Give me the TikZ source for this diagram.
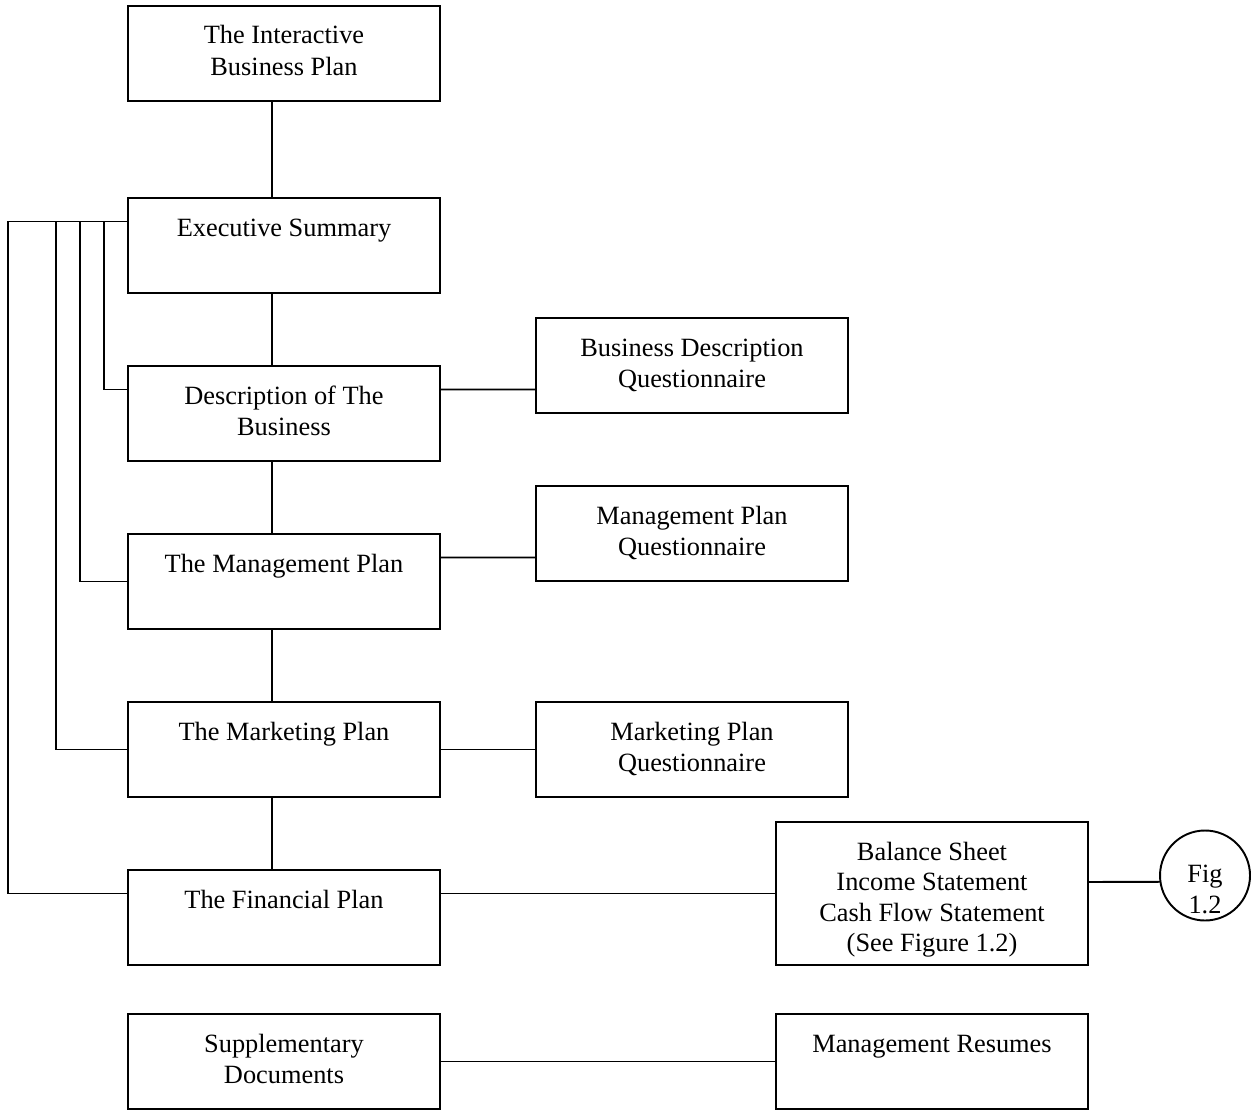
\documentclass[tikz,border=0pt]{standalone}
\usepackage{fontspec}
\setmainfont{Liberation Serif}
\usepackage{tikz}
\usetikzlibrary{positioning}
\tikzset{
  box/.style={draw,line width=1.1pt,inner sep=0pt,outer sep=0pt,
              text width=6.24cm,align=center,minimum height=1.9cm,
              text height=0.76cm,text depth=1.14cm,
              font=\fontsize{15}{18}\selectfont,
              execute at begin node={\spaceskip=3.75pt\relax}},
  tallbox/.style={box,minimum height=2.86cm,text depth=2.1cm,
                  font=\fontsize{15}{17.4}\selectfont},
  figmark/.style={draw,circle,line width=1.1pt,inner sep=0pt,outer sep=0pt,
                  minimum size=1.8cm,text width=0.8cm,align=center,
                  text height=0.88cm,text depth=0.62cm,
                  font=\fontsize{15}{18}\selectfont},
  lnk/.style={line width=1.1pt},
}
\begin{document}
\begin{tikzpicture}
  \useasboundingbox (0,0) rectangle (25.18,-22.2);
  %% Main column
  \node[box] (plan) at (5.68,-1.07) {The Interactive\\Business Plan};
  \node[box,below=1.94cm of plan]   (exec)    {Executive Summary};
  \node[box,below=1.46cm of exec]   (desc)    {Description of The\\Business};
  \node[box,below=1.46cm of desc]   (mgmt)    {The Management Plan};
  \node[box,below=1.46cm of mgmt]   (mktg)    {The Marketing Plan};
  \node[box,below=1.46cm of mktg]   (fin)     {The Financial Plan};
  \node[box,below=0.98cm of fin]    (supp)    {Supplementary\\Documents};
  %% Questionnaires
  \node[box,right=1.92cm of desc,yshift=0.96cm] (bdq) {Business Description\\Questionnaire};
  \node[box,right=1.92cm of mgmt,yshift=0.96cm] (mpq) {Management Plan\\Questionnaire};
  \node[box,right=1.92cm of mktg]               (mkq) {Marketing Plan\\Questionnaire};
  %% Statements and resumes
  \node[tallbox,right=6.72cm of fin,yshift=0.48cm] (stmts)
       {Balance Sheet\\Income Statement\\Cash Flow Statement\\(See Figure 1.2)};
  \node[box,right=6.72cm of supp]   (resumes) {Management Resumes};
  \node[figmark,right=1.44cm of stmts,yshift=0.36cm] (fig) {Fig\\1.2};

  %% Spine
  \draw[lnk]([xshift=-0.24cm]plan.south)--([xshift=-0.24cm]exec.north);
  \draw[lnk]([xshift=-0.24cm]exec.south)--([xshift=-0.24cm]desc.north);
  \draw[lnk]([xshift=-0.24cm]desc.south)--([xshift=-0.24cm]mgmt.north);
  \draw[lnk]([xshift=-0.24cm]mgmt.south)--([xshift=-0.24cm]mktg.north);
  \draw[lnk]([xshift=-0.24cm]mktg.south)--([xshift=-0.24cm]fin.north);
  %% Left bus
  \draw[lnk]([yshift=0.48cm]exec.west)-|([xshift=-2.4cm,yshift=0.48cm]fin.west)--([yshift=0.48cm]fin.west);
  \draw[lnk]([xshift=-1.44cm,yshift=0.48cm]exec.west)|-(mktg.west);
  \draw[lnk]([xshift=-0.96cm,yshift=0.48cm]exec.west)|-(mgmt.west);
  \draw[lnk]([xshift=-0.48cm,yshift=0.48cm]exec.west)|-([yshift=0.48cm]desc.west);
  %% Right side
  \draw[lnk]([yshift=0.48cm]desc.east)--([yshift=-0.48cm]bdq.west);
  \draw[lnk]([yshift=0.48cm]mgmt.east)--([yshift=-0.48cm]mpq.west);
  \draw[lnk](mktg.east)--(mkq.west);
  \draw[lnk]([yshift=0.48cm]fin.east)--(stmts.west);
  \draw[lnk]([yshift=0.23cm]stmts.east)--(fig.188);
  \draw[lnk](supp.east)--(resumes.west);
\end{tikzpicture}
\end{document}
